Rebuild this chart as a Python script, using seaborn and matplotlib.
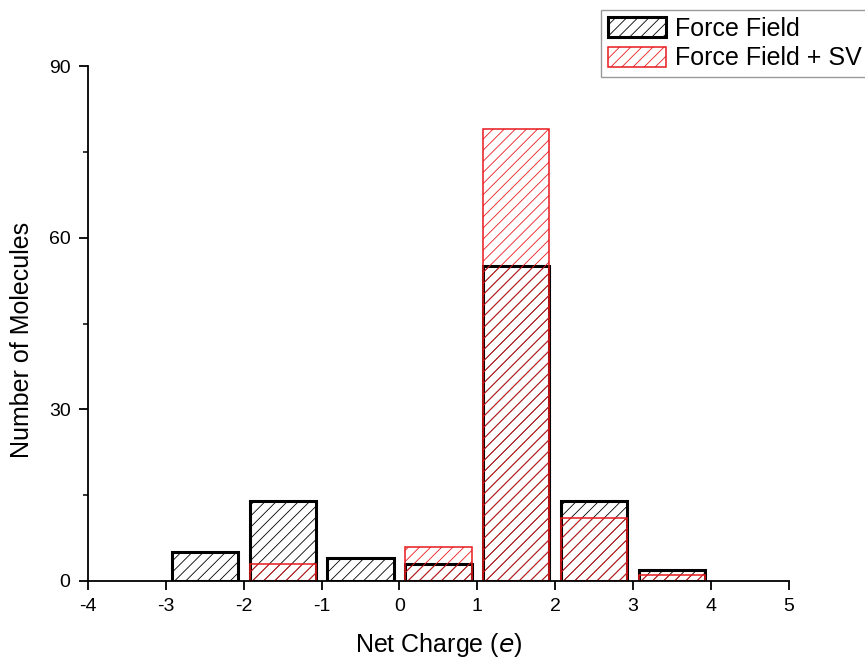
import matplotlib
matplotlib.use("Agg")
import matplotlib.pyplot as plt
from matplotlib.patches import Patch
from matplotlib.ticker import MultipleLocator
import pandas as pd
import seaborn as sns

# Net-charge bins (bin centres) and molecule counts per method
charge_ff = [-2.5, -1.5, -0.5, 0.5, 1.5, 2.5, 3.5]
count_ff = [5, 14, 4, 3, 55, 14, 2]

charge_sv = [-1.5, 0.5, 1.5, 2.5, 3.5]
count_sv = [3, 6, 79, 11, 1]

series_labels = ["Force Field", "Force Field + SV"]
x_ticks = [-4, -3, -2, -1, 0, 1, 2, 3, 4, 5]
y_ticks = [0, 30, 60, 90]

RED = "#e8191c"

sns.set_style("ticks")
plt.rcParams["font.family"] = ["Liberation Sans", "DejaVu Sans"]
plt.rcParams["hatch.linewidth"] = 0.6

fig = plt.figure(figsize=(8.65, 6.59), dpi=100)
ax = fig.add_axes([0.1017, 0.1184, 0.8103, 0.7814])

df_ff = pd.DataFrame({"charge": charge_ff, "count": count_ff})
df_sv = pd.DataFrame({"charge": charge_sv, "count": count_sv})

sns.barplot(data=df_ff, x="charge", y="count", native_scale=True, width=0.85,
            errorbar=None, ax=ax)
n_ff = len(ax.patches)
sns.barplot(data=df_sv, x="charge", y="count", native_scale=True, width=0.85,
            errorbar=None, ax=ax)

for i, p in enumerate(ax.patches):
    p.set_facecolor("none")
    p.set_hatch("///")
    if i < n_ff:
        p.set_edgecolor("black")
        p.set_linewidth(2.2)
    else:
        p.set_edgecolor(RED)
        p.set_linewidth(1.1)

ax.set_xlim(-4, 5)
ax.set_ylim(0, 90)
ax.set_xticks(x_ticks)
ax.set_xticklabels([str(t) for t in x_ticks])
ax.set_yticks(y_ticks)
ax.yaxis.set_minor_locator(MultipleLocator(15))

for side in ["top", "right"]:
    ax.spines[side].set_visible(False)
for side in ["left", "bottom"]:
    ax.spines[side].set_linewidth(1.3)
    ax.spines[side].set_color("black")

ax.tick_params(axis="both", which="major", direction="out", length=6.5,
               width=1.3, labelsize=14, colors="black", pad=6)
ax.tick_params(axis="y", which="minor", direction="out", length=3.5, width=1.1,
               colors="black")

ax.set_xlabel("Net Charge ($\\it{e}$)", fontsize=18, color="black", labelpad=11)
ax.set_ylabel("Number of Molecules", fontsize=18, color="black")
ax.yaxis.set_label_coords(-0.077, 0.468)

handles = [
    Patch(facecolor="none", edgecolor="black", linewidth=2.2, hatch="///",
          label=series_labels[0]),
    Patch(facecolor="none", edgecolor=RED, linewidth=1.1, hatch="///",
          label=series_labels[1]),
]
leg = fig.legend(handles=handles, loc="upper left", bbox_to_anchor=(0.6948, 0.985),
                 fontsize=18, frameon=True, fancybox=False, shadow=False,
                 handlelength=2.32, handleheight=0.88, handletextpad=0.36,
                 labelspacing=0.22, borderpad=0.28, borderaxespad=0.0)
leg.get_frame().set_edgecolor("#808080")
leg.get_frame().set_linewidth(1.0)
for t in leg.get_texts():
    t.set_color("black")

fig.savefig("out.png", dpi=100)
